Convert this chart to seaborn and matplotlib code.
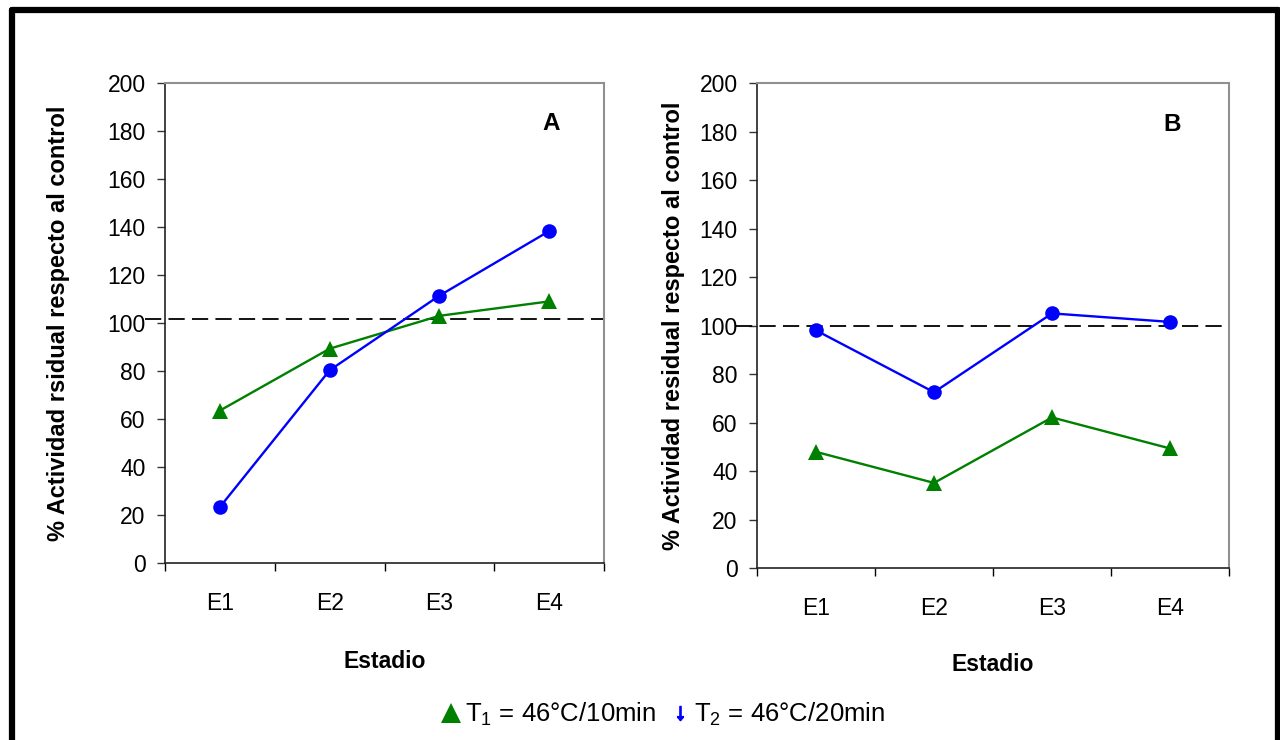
import pandas as pd
import seaborn as sns
import matplotlib.pyplot as plt
from matplotlib.lines import Line2D
import numpy as np

# data
estadios = ["E1", "E2", "E3", "E4"]
tratamientos = ["T1", "T2"]
a_t1 = [63.5, 89.3, 103.0, 109.0]
a_t2 = [23.3, 80.3, 111.4, 138.3]
b_t1 = [47.9, 35.1, 62.1, 49.3]
b_t2 = [98.0, 72.5, 105.0, 101.5]
control_a = 101.8
control_b = 100.0
yticks = list(range(0, 201, 20))
leyenda = ["T$_1$ = 46°C/10min", "T$_2$ = 46°C/20min"]

colores = {"T1": "#008000", "T2": "#0000FF"}
marcadores = {"T1": "^", "T2": "o"}
tamanos = {"T1": 12, "T2": 10.5}


def tabla(t1, t2):
    return pd.DataFrame({
        "estadio": estadios * 2,
        "tratamiento": ["T1"] * 4 + ["T2"] * 4,
        "valor": t1 + t2,
    })


sns.set_theme(style="white")
plt.rcParams["font.family"] = ["Liberation Sans", "DejaVu Sans"]
plt.rcParams["mathtext.fontset"] = "custom"
plt.rcParams["mathtext.rm"] = "Liberation Sans"
plt.rcParams["mathtext.it"] = "Liberation Sans"
for k in ["text.color", "axes.labelcolor", "xtick.color", "ytick.color"]:
    plt.rcParams[k] = "black"

fig = plt.figure(figsize=(12.8, 7.4), dpi=100)
ax_a = fig.add_axes([0.1289, 0.2392, 0.3430, 0.6486])
ax_b = fig.add_axes([0.5914, 0.2324, 0.3688, 0.6554])


def panel(ax, df, control, letra, ylabel, ylab_x, xlab_y):
    for t in tratamientos:
        sns.lineplot(data=df[df["tratamiento"] == t], x="estadio", y="valor",
                     color=colores[t], marker=marcadores[t],
                     markersize=tamanos[t], markeredgewidth=0,
                     linewidth=1.7, ax=ax, sort=False)
    ax.axhline(control, xmin=-0.045, xmax=1.0, color="black", lw=1.3,
               dashes=(9, 4), clip_on=False, zorder=1)
    ax.set_ylim(0, 200)
    ax.set_yticks(yticks)
    ax.set_xlim(-0.5, 3.5)
    ax.set_xticks(np.arange(-0.5, 4.0, 1.0))
    ax.set_xticklabels([])
    ax.set_xticks(range(4), minor=True)
    ax.set_xticklabels(estadios, minor=True)
    ax.tick_params(axis="x", which="major", direction="out", length=6,
                   width=1, color="black", bottom=True)
    ax.tick_params(axis="x", which="minor", length=0, pad=21, labelsize=16.5)
    ax.tick_params(axis="y", direction="out", length=6, width=1,
                   color="#333333", pad=8, labelsize=16.5, left=True)
    for s in ["left", "bottom"]:
        ax.spines[s].set_color("#222222")
        ax.spines[s].set_linewidth(1.2)
    for s in ["top", "right"]:
        ax.spines[s].set_color("#909090")
        ax.spines[s].set_linewidth(1.5)
    ax.set_ylabel(ylabel, fontsize=17, fontweight="bold")
    ax.yaxis.set_label_coords(ylab_x, 0.5)
    ax.set_xlabel("Estadio", fontsize=16.5, fontweight="bold")
    ax.xaxis.set_label_coords(0.5, xlab_y)
    ax.text(0.88, 0.915, letra, transform=ax.transAxes, fontsize=17.5,
            fontweight="bold", ha="center", va="center")


panel(ax_a, tabla(a_t1, a_t2), control_a, "A",
      "% Actividad rsidual respecto al control", -0.216, -0.181)
panel(ax_b, tabla(b_t1, b_t2), control_b, "B",
      "% Actividad residual respecto al control", -0.153, -0.175)

handles = [
    Line2D([], [], ls="none", marker="^", color=colores["T1"],
           markersize=14, markeredgewidth=0),
    Line2D([], [], ls="none", marker=r"$\downarrow$", color=colores["T2"],
           markersize=10, markeredgewidth=1.2),
]
fig.legend(handles, leyenda, loc="center", bbox_to_anchor=(0.518, 0.035),
           ncol=2, frameon=False, fontsize=18.5, handlelength=0.8,
           handletextpad=0.15, columnspacing=0.5)

# outer frame
marco = dict(color="black", lw=4.5, transform=fig.transFigure)
fig.add_artist(Line2D([0.0094, 0.0094], [-0.05, 0.9865], **marco))
fig.add_artist(Line2D([0.0094, 0.9984], [0.9865, 0.9865], **marco))
fig.add_artist(Line2D([0.9984, 0.9984], [-0.05, 0.9865], **marco))

fig.savefig("out.png", dpi=100)
